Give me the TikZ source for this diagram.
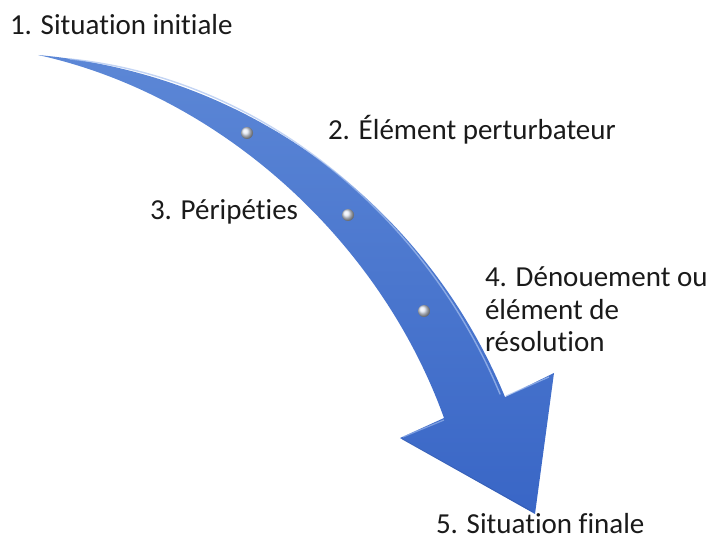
\documentclass[tikz,border=0pt]{standalone}
\usepackage{fontspec}
\setmainfont{Carlito}[Ligatures={NoCommon}]
\definecolor{arrowlight}{HTML}{5C87D6}
\definecolor{arrowmid}{HTML}{4472C4}
\definecolor{arrowdark}{HTML}{3966C6}
\definecolor{arrowhi}{HTML}{A9C2F0}
\definecolor{textcol}{HTML}{1A1A1A}
\definecolor{dotcol}{HTML}{E4EAF6}
\begin{document}
\begin{tikzpicture}[x=1pt,y=-1pt,
  lbl/.style={inner sep=0pt,outer sep=0pt,anchor=base west,text=textcol,
    font=\fontsize{29}{32.5}\selectfont},
  dotball/.style={circle,inner sep=0pt,minimum size=12pt,shading=ball,ball color=dotcol}]
\useasboundingbox (0,0) rectangle (713,537);
% arrow body
\shade[left color=arrowlight,right color=arrowdark,shading angle=0]
  (38,55) .. controls (260,75) and (430,215) .. (505,397)
  -- (554,373) -- (535,514) -- (400,438) -- (444,418)
  .. controls (380,240) and (220,95) .. (38,55) -- cycle;
% highlights
\draw[arrowhi,line width=1.4pt,opacity=0.7,line cap=round]
  (70,59) .. controls (264,79) and (427,218) .. (500,394);
\draw[arrowhi,line width=1.2pt,opacity=0.7] (506,396) -- (549,377);
\draw[arrowhi,line width=1.2pt,opacity=0.6] (403,437) -- (444,420);
\draw[arrowdark!80!black,line width=0.8pt,opacity=0.4] (533,512) -- (402,439);
% dots
\node[dotball] (d1) at (247,133) {};
\node[dotball] (d2) at (348,215) {};
\node[dotball] (d3) at (424,311) {};
% labels
\node[lbl] (t1) at (10,35) {1. Situation initiale};
\node[lbl] (t2) at (328,140) {2. Élément perturbateur};
\node[lbl] (t3) at (150,220) {3. Péripéties};
\node[lbl,align=left] (t4) at (485,352) {4. Dénouement ou\\élément de\\résolution};
\node[lbl,text depth=0pt] (t5) at (436,533) {5. Situation finale};
\end{tikzpicture}
\end{document}
